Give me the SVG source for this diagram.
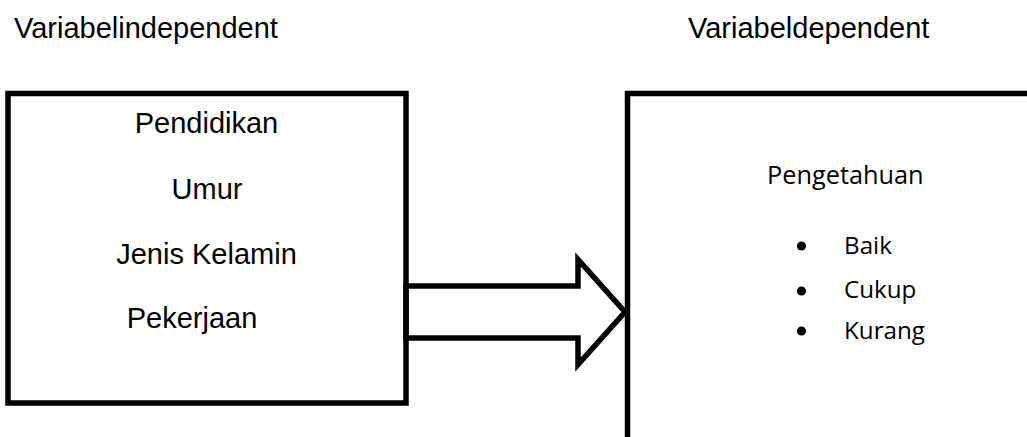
<svg xmlns="http://www.w3.org/2000/svg" width="1027" height="437" viewBox="0 0 1027 437">
<style>
.ln{fill:none;stroke:#000;stroke-width:5.5;stroke-linejoin:miter;stroke-miterlimit:10}
.ar{fill:#fff;stroke:#000;stroke-width:5.5;stroke-linejoin:miter;stroke-miterlimit:10}
.t{font-family:"Liberation Sans",Arial,sans-serif;font-size:29px;fill:#000}
.c{font-family:"Open Sans","Noto Sans",sans-serif;fill:#000}
</style>
<rect width="1027" height="437" fill="#fff"/>
<g id="titles">
<text class="t" x="14" y="38">Variabelindependent</text>
<text class="t" x="688" y="38">Variabeldependent</text>
</g>
<g id="connectors">
<polygon class="ar" points="406,286 578,286 578,259.5 625,312 578,364.5 578,338 406,338"/>
</g>
<g id="independent">
<rect class="ln" x="8" y="93.5" width="398" height="309.5"/>
<text class="t" x="206.5" y="133" text-anchor="middle">Pendidikan</text>
<text class="t" x="207" y="199" text-anchor="middle">Umur</text>
<text class="t" x="206.5" y="264" text-anchor="middle">Jenis Kelamin</text>
<text class="t" x="192" y="328" text-anchor="middle">Pekerjaan</text>
</g>
<g id="dependent">
<path class="ln" d="M627.5,437 V93.5 H1027"/>
<text class="c" x="767" y="184" font-size="25.3">Pengetahuan</text>
<circle cx="801.5" cy="246" r="4.6"/>
<circle cx="801.5" cy="291" r="4.6"/>
<circle cx="801.5" cy="331" r="4.6"/>
<text class="c" x="844" y="254" font-size="24.2">Baik</text>
<text class="c" x="844" y="298" font-size="24.2">Cukup</text>
<text class="c" x="844" y="339" font-size="24.2">Kurang</text>
</g>
</svg>
